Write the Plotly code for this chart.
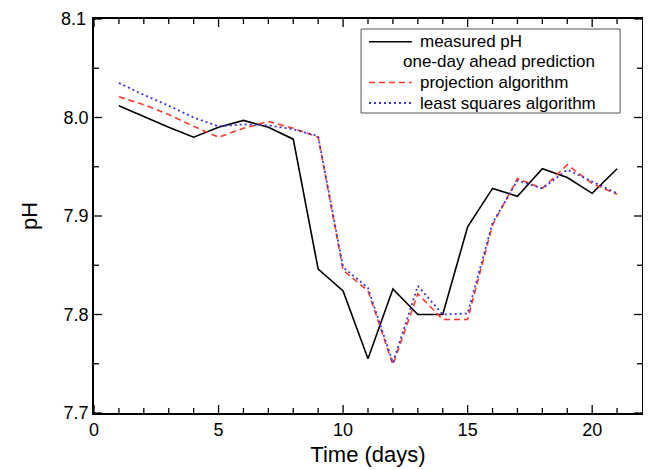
import plotly.graph_objects as go

days = list(range(1, 22))
measured_ph = [8.012, 8.001, 7.990, 7.980, 7.990, 7.997, 7.990, 7.978, 7.846, 7.824,
               7.755, 7.826, 7.800, 7.800, 7.889, 7.928, 7.920, 7.948, 7.939, 7.923, 7.948]
projection_pred = [8.021, 8.013, 8.003, 7.991, 7.980, 7.989, 7.996, 7.989, 7.980, 7.845,
                   7.824, 7.749, 7.821, 7.795, 7.795, 7.891, 7.938, 7.928, 7.952, 7.933, 7.922]
least_squares_pred = [8.035, 8.023, 8.012, 8.000, 7.991, 7.993, 7.992, 7.988, 7.981, 7.848,
                      7.827, 7.751, 7.829, 7.800, 7.801, 7.893, 7.936, 7.928, 7.947, 7.935, 7.923]

legend_labels = ["measured pH", "one-day ahead prediction", "projection algorithm", "least squares algorithm"]

x_range = [0, 22]
y_range = [7.7, 8.1]
x_major_ticks = [0, 5, 10, 15, 20]
x_minor_ticks = [1, 2, 3, 4, 6, 7, 8, 9, 11, 12, 13, 14, 16, 17, 18, 19, 21]
y_major_ticks = [7.7, 7.8, 7.9, 8.0, 8.1]
y_minor_ticks = [7.75, 7.85, 7.95, 8.05]

FONT = "Liberation Sans, Arial, Helvetica, sans-serif"
BLACK = "black"
RED = "#ff3a2a"
BLUE = "#3a33d6"

fig = go.Figure()
fig.add_trace(go.Scatter(x=days, y=measured_ph, mode="lines", name=legend_labels[0],
                         line=dict(color=BLACK, width=1.6)))
fig.add_trace(go.Scatter(x=days, y=projection_pred, mode="lines", name=legend_labels[2],
                         line=dict(color=RED, width=1.6, dash="6px,4px")))
fig.add_trace(go.Scatter(x=days, y=least_squares_pred, mode="lines", name=legend_labels[3],
                         line=dict(color=BLUE, width=1.8, dash="2px,3px")))

# the top-edge y label is drawn as an annotation; the axis labels the others
y_axis_label_ticks = y_major_ticks[:-1]

fig.update_layout(
    xaxis=dict(range=x_range, tick0=0, dtick=5,
               showline=True, linecolor="black", linewidth=1.5, mirror=True,
               ticks="", showgrid=False, zeroline=False,
               tickfont=dict(family=FONT, size=18, color="black"),
               title=dict(text="Time (days)", font=dict(family=FONT, size=22, color="black"), standoff=7)),
    yaxis=dict(range=y_range, tickmode="array", tickvals=y_axis_label_ticks,
               ticktext=[f"{v:.1f}" for v in y_axis_label_ticks],
               showline=True, linecolor="black", linewidth=1.5, mirror=True,
               ticks="", showgrid=False, zeroline=False,
               tickfont=dict(family=FONT, size=18, color="black"),
               title=dict(text="pH", font=dict(family=FONT, size=22, color="black"), standoff=20)),
)

PLOT_W, PLOT_H = 550.0, 394.0
MAJOR_LEN, MINOR_LEN = 8.0, 5.0
tick_line = dict(color="black", width=1.3)
shapes = []
# x-axis ticks (bottom and mirrored top), pointing inward
for vals, ln in ((x_major_ticks, MAJOR_LEN), (x_minor_ticks, MINOR_LEN)):
    for v in vals:
        shapes.append(dict(type="line", xref="x", yref="paper", x0=v, x1=v, y0=0, y1=ln / PLOT_H,
                           line=tick_line, layer="above"))
        shapes.append(dict(type="line", xref="x", yref="paper", x0=v, x1=v, y0=1, y1=1 - ln / PLOT_H,
                           line=tick_line, layer="above"))
# y-axis ticks (left and mirrored right), pointing inward
for vals, ln in ((y_major_ticks, MAJOR_LEN), (y_minor_ticks, MINOR_LEN)):
    for v in vals:
        shapes.append(dict(type="line", xref="paper", yref="y", x0=0, x1=ln / PLOT_W, y0=v, y1=v,
                           line=tick_line, layer="above"))
        shapes.append(dict(type="line", xref="paper", yref="y", x0=1, x1=1 - ln / PLOT_W, y0=v, y1=v,
                           line=tick_line, layer="above"))

annotations = [dict(text=f"{y_major_ticks[-1]:.1f}", xref="paper", yref="y", x=0, y=y_major_ticks[-1],
                    xanchor="right", yanchor="middle", xshift=-6, showarrow=False,
                    font=dict(family=FONT, size=18, color="black"))]

# manual legend (paper coordinates of the plotting area)
shapes.append(dict(type="rect", xref="paper", yref="paper", x0=0.4873, x1=0.960, y0=0.7614, y1=0.9746,
                   line=dict(color="#555555", width=1), fillcolor="white", layer="above"))
row_y = [0.9424, 0.8909, 0.8388, 0.7868]
sample_styles = [dict(color=BLACK, width=1.6), None, dict(color=RED, width=1.6, dash="6px,4px"),
                 dict(color=BLUE, width=1.8, dash="2px,3px")]
for label, yy, style in zip(legend_labels, row_y, sample_styles):
    if style is not None:
        shapes.append(dict(type="line", xref="paper", yref="paper", x0=0.5018, x1=0.580, y0=yy, y1=yy,
                           line=style, layer="above"))
        tx = 0.5909
    else:
        tx = 0.560
    annotations.append(dict(text=label, xref="paper", yref="paper", x=tx, y=yy, xanchor="left",
                            yanchor="middle", showarrow=False,
                            font=dict(family=FONT, size=17, color="black")))

fig.update_layout(
    width=643, height=462,
    margin=dict(l=86, r=7, t=11, b=57),
    paper_bgcolor="white", plot_bgcolor="white",
    showlegend=False,
    shapes=shapes, annotations=annotations,
)

fig.write_html("out.html")
